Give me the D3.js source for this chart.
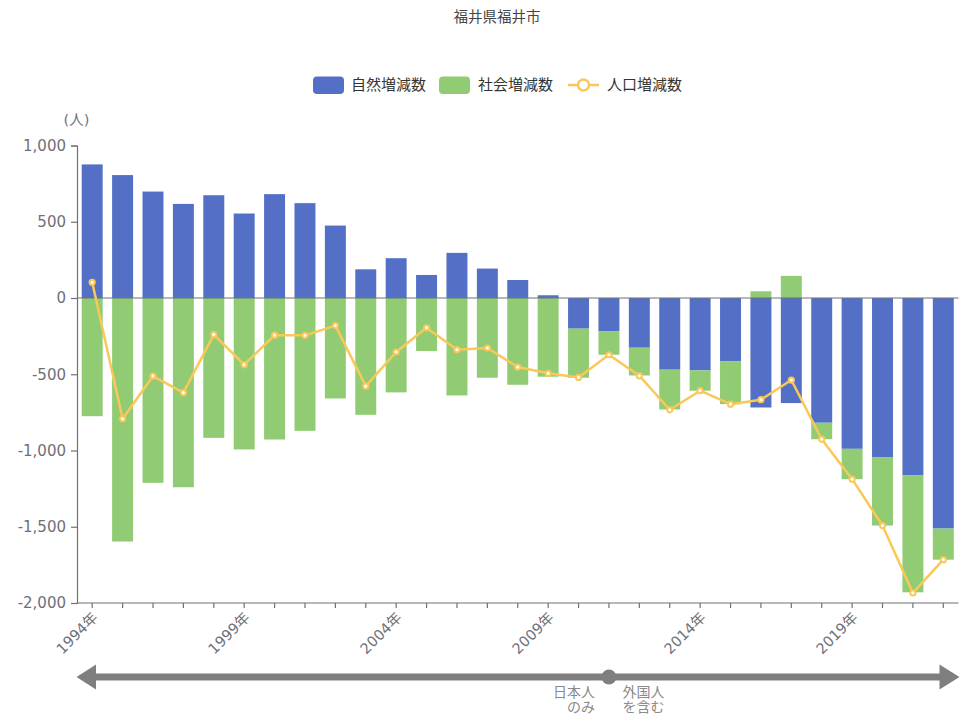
<!DOCTYPE html>
<html><head><meta charset="utf-8">
<script src="https://cdn.jsdelivr.net/npm/d3@7"></script>
<style>
html,body{margin:0;padding:0;background:#fff;}
svg{display:block;font-family:"DejaVu Sans","Noto Sans CJK JP",sans-serif;}
svg text{font-family:"DejaVu Sans","Noto Sans CJK JP",sans-serif;}
</style></head>
<body>
<svg id="chart" width="972" height="714"></svg>
<script>
const title = "福井県福井市";
const years = d3.range(1994, 2023);
const natural = [876, 806, 698, 617, 674, 554, 681, 622, 475, 188, 261, 151, 296, 193, 118, 18, -201, -219, -326, -470, -475, -416, -718, -689, -818, -989, -1046, -1164, -1512];
const social = [-775, -1597, -1212, -1241, -917, -993, -928, -871, -659, -766, -619, -348, -639, -523, -569, -516, -322, -153, -182, -261, -133, -280, 44, 145, -108, -199, -446, -766, -204];
const total = [103, -792, -512, -621, -240, -437, -244, -245, -181, -578, -354, -195, -339, -328, -453, -494, -521, -372, -510, -733, -608, -696, -667, -538, -926, -1188, -1492, -1934, -1716];
const yTicks = [-2000, -1500, -1000, -500, 0, 500, 1000];
const labelYears = [1994, 1999, 2004, 2009, 2014, 2019];
const seriesNames = ["自然増減数", "社会増減数", "人口増減数"];
const colors = ["#5470c6", "#91cc75", "#fac858"];
const splitYear = 2011;
const noteLeft = ["日本人", "のみ"];
const noteRight = ["外国人", "を含む"];

const svg = d3.select("#chart");
const axisColor = "#6e7079";
const fs = 15;

const x = d3.scaleBand().domain(years).range([77, 958.5]).paddingInner(0.31).paddingOuter(0.155);
const y = d3.scaleLinear().domain([-2000, 1000]).range([603, 145.5]);
const cx = d => x(d) + x.bandwidth() / 2;

// title
svg.append("text").attr("x", 497).attr("y", 17).attr("text-anchor", "middle")
  .attr("dominant-baseline", "central").attr("font-size", 14.5).attr("fill", "#464646").text(title);

// legend
const lg = svg.append("g");
const legendX = [313, 439, 568];
const textX = [351, 478, 607];
[0, 1].forEach(i => {
  lg.append("rect").attr("x", legendX[i]).attr("y", 76.5).attr("width", 31).attr("height", 17.5)
    .attr("rx", 4).attr("fill", colors[i]);
});
lg.append("line").attr("x1", legendX[2]).attr("x2", legendX[2] + 31).attr("y1", 85).attr("y2", 85)
  .attr("stroke", colors[2]).attr("stroke-width", 2.5);
lg.append("circle").attr("cx", legendX[2] + 15.5).attr("cy", 85).attr("r", 5.5)
  .attr("fill", "#fff").attr("stroke", colors[2]).attr("stroke-width", 2.5);
seriesNames.forEach((n, i) => {
  lg.append("text").attr("x", textX[i]).attr("y", 85).attr("dominant-baseline", "central")
    .attr("font-size", fs).attr("fill", "#333").text(n);
});

// y axis
const fmt = d3.format(",");
const yAxis = d3.axisLeft(y).tickValues(yTicks).tickSize(6).tickPadding(5)
  .tickFormat(d => fmt(d).replace("\u2212", "-"));
const yg = svg.append("g").attr("transform", "translate(77,0)").call(yAxis);
yg.attr("font-family", null).attr("font-size", null);
yg.select(".domain").attr("stroke", axisColor).attr("stroke-width", 1.2);
yg.selectAll(".tick line").attr("stroke", axisColor).attr("stroke-width", 1.2);
yg.selectAll(".tick text").attr("fill", axisColor).attr("font-size", fs);
svg.append("text").attr("x", 76.5).attr("y", 120).attr("text-anchor", "middle")
  .attr("dominant-baseline", "central").attr("font-size", 14.5).attr("fill", axisColor).text("(人)");

// x axis at bottom
const xAxis = d3.axisBottom(x).tickSize(5).tickPadding(8).tickFormat(d => labelYears.includes(d) ? d + "年" : "");
const xg = svg.append("g").attr("transform", `translate(0,${y(-2000)})`).call(xAxis);
xg.attr("font-family", null).attr("font-size", null);
xg.select(".domain").attr("stroke", axisColor).attr("stroke-width", 1.2).attr("d", `M77,0H958.5`);
xg.selectAll(".tick line").attr("stroke", axisColor).attr("stroke-width", 1.2);
xg.selectAll(".tick text").attr("fill", axisColor).attr("font-size", 14.5)
  .attr("text-anchor", "end").attr("dy", null).attr("dominant-baseline", "central")
  .attr("x", 0).attr("y", 0)
  .attr("transform", "translate(3,12) rotate(-45)");

// stacked bars (same-sign stacking)
const bars = svg.append("g");
years.forEach((yr, i) => {
  let pos = 0, neg = 0;
  [natural[i], social[i]].forEach((v, s) => {
    let y0, y1;
    if (v >= 0) { y0 = pos; y1 = pos + v; pos = y1; }
    else { y0 = neg; y1 = neg + v; neg = y1; }
    bars.append("rect").attr("x", x(yr)).attr("width", x.bandwidth())
      .attr("y", y(Math.max(y0, y1))).attr("height", Math.abs(y(y0) - y(y1)))
      .attr("fill", colors[s]);
  });
});

// zero line
svg.append("line").attr("x1", 77).attr("x2", 958.5).attr("y1", y(0)).attr("y2", y(0))
  .attr("stroke", axisColor).attr("stroke-width", 1.2);

// line series
const line = d3.line().x((d, i) => cx(years[i])).y(d => y(d));
svg.append("path").datum(total).attr("d", line).attr("fill", "none")
  .attr("stroke", colors[2]).attr("stroke-width", 2.5).attr("stroke-linejoin", "round");
svg.append("g").selectAll("circle").data(total).join("circle")
  .attr("cx", (d, i) => cx(years[i])).attr("cy", d => y(d)).attr("r", 2.6)
  .attr("fill", "#fff").attr("stroke", colors[2]).attr("stroke-width", 2);

// bottom arrow
const ag = svg.append("g");
const ay = 677, arrowColor = "#7f7f7f";
ag.append("line").attr("x1", 94).attr("x2", 941).attr("y1", ay).attr("y2", ay)
  .attr("stroke", arrowColor).attr("stroke-width", 7);
ag.append("path").attr("d", `M76.5,${ay}L96,${ay - 12.5}L96,${ay + 12.5}Z`).attr("fill", arrowColor);
ag.append("path").attr("d", `M959.5,${ay}L939.5,${ay - 12.5}L939.5,${ay + 12.5}Z`).attr("fill", arrowColor);
const sx = cx(splitYear);
ag.append("circle").attr("cx", sx).attr("cy", ay).attr("r", 7.5).attr("fill", arrowColor);
const noteColor = "#8a8a8a";
function note(lines, xx, anchor) {
  const t = ag.append("text").attr("x", xx).attr("y", 692).attr("text-anchor", anchor)
    .attr("dominant-baseline", "central").attr("font-size", 14).attr("fill", noteColor);
  lines.forEach((s, k) => t.append("tspan").attr("x", xx).attr("dy", k === 0 ? 0 : 14.5).text(s));
}
note(noteLeft, sx - 14, "end");
note(noteRight, sx + 13.5, "start");
</script>
</body></html>
